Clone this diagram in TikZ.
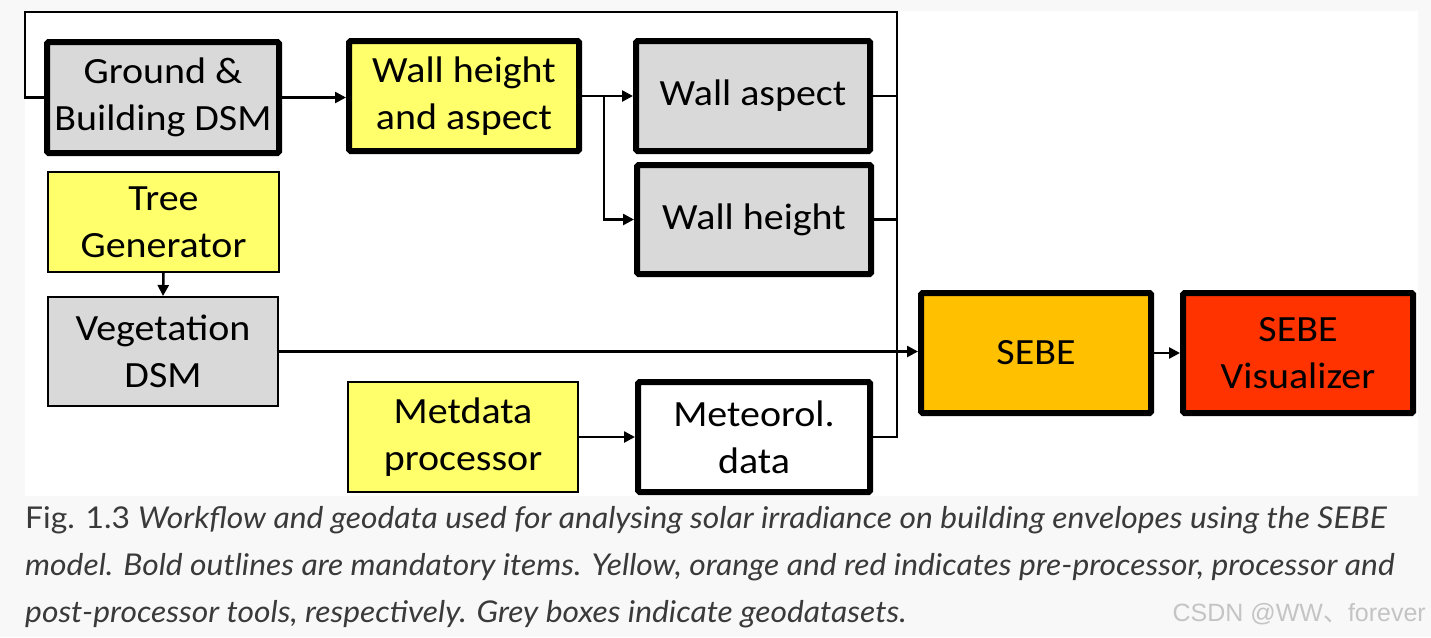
\documentclass[tikz,border=0pt]{standalone}
\usepackage{fontspec}
\setmainfont[FakeStretch=1.08]{Carlito}
\newfontfamily\capfont[FakeStretch=1.06]{Lato}
\newfontfamily\wmfont{Liberation Sans}
\newfontfamily\cjkfont{Noto Sans CJK SC}
\usetikzlibrary{arrows.meta}
\definecolor{boxgrey}{HTML}{D9D9D9}
\definecolor{boxyellow}{HTML}{FFFF6B}
\definecolor{boxorange}{HTML}{FFC000}
\definecolor{boxred}{HTML}{FF3300}
\definecolor{pagebg}{HTML}{F8F8F8}
\definecolor{captext}{HTML}{3A3A3A}
\definecolor{wmgrey}{HTML}{C4C4C4}
\tikzset{
  box/.style={rectangle, inner sep=0pt, align=center, font=\fontsize{37}{47}\selectfont, text=black},
  thickbox/.style={box, draw=black, line width=6pt, rounded corners=1.5pt},
  thinbox/.style={box, draw=black, line width=2pt},
  conn/.style={line width=2.5pt, draw=black},
  arr/.style={conn, -{Triangle[length=11pt,width=11pt]}},
  captionline/.style={anchor=base west, inner sep=0pt, text=captext, font=\capfont\fontsize{30}{47}\selectfont},
}
\begin{document}
\begin{tikzpicture}[x=1pt,y=-1pt]
\useasboundingbox (0,0) rectangle (1431,637);
\fill[pagebg] (0,0) rectangle (1431,637);
\fill[white] (25,11) rectangle (1418,496);

% boxes
\node[thickbox, fill=boxgrey, minimum width=232pt, minimum height=111pt] (gb) at (163,97.5) {Ground \&\\Building DSM};
\node[thickbox, fill=boxyellow, minimum width=230pt, minimum height=110pt] (wha) at (464,96) {Wall height\\and aspect};
\node[thickbox, fill=boxgrey, minimum width=234pt, minimum height=110pt] (wa) at (753,96) {Wall aspect};
\node[thickbox, fill=boxgrey, minimum width=234pt, minimum height=109pt] (wh) at (754,219.5) {Wall height};
\node[thinbox, fill=boxyellow, minimum width=231pt, minimum height=100pt] (tg) at (163.5,222) {Tree\\Generator};
\node[thinbox, fill=boxgrey, minimum width=230pt, minimum height=109pt] (veg) at (163,351.5) {Vegetation\\DSM};
\node[thinbox, fill=boxyellow, minimum width=230pt, minimum height=110pt] (met) at (463,437) {Metdata\\processor};
\node[thickbox, fill=white, minimum width=232pt, minimum height=110pt] (mt) at (754,437) {Meteorol.\\data};
\node[thickbox, fill=boxorange, minimum width=230pt, minimum height=120pt] (sebe) at (1036,353) {SEBE};
\node[thickbox, fill=boxred, minimum width=230pt, minimum height=120pt] (vis) at (1298,353) {SEBE\\Visualizer};

% coordinates
\coordinate (loopl) at (25,97.5);
\coordinate (looptl) at (25,12);
\coordinate (looptr) at (897,12);
\coordinate (busbot) at (897,437);
\coordinate (split) at (604,96);

% connectors
\draw[conn] (gb.west) -- (loopl) -- (looptl) -- (looptr) -- (busbot) -- (mt.east);
\draw[conn] (wa.east) -- (wa.east -| looptr);
\draw[conn] (wh.east) -- (wh.east -| looptr);
\draw[arr] (wha.east) -- (split) -- (wa.west);
\draw[arr] (split) |- (wh.west);
\draw[arr] (gb.east) -- (wha.west |- gb.east);
\draw[arr] (tg.south) -- (veg.north);
\draw[arr] (veg.east) -- (sebe.west |- veg.east);
\draw[arr] (met.east) -- (mt.west);
\draw[arr] (sebe.east) -- (vis.west);

% caption
\node[captionline] (cap1) at (25,528) {Fig. 1.3 \textit{Workflow and geodata used for analysing solar irradiance on building envelopes using the SEBE}};
\node[captionline] (cap2) at (25,575) {\textit{model. Bold outlines are mandatory items. Yellow, orange and red indicates pre-processor, processor and}};
\node[captionline] (cap3) at (25,622) {\textit{post-processor tools, respectively. Grey boxes indicate geodatasets.}};

% watermark
\node[anchor=base east, inner sep=0pt, text=wmgrey, font=\wmfont\fontsize{25}{30}\selectfont] (wm) at (1426,621) {CSDN @WW{\cjkfont 、}forever};
\end{tikzpicture}
\end{document}
